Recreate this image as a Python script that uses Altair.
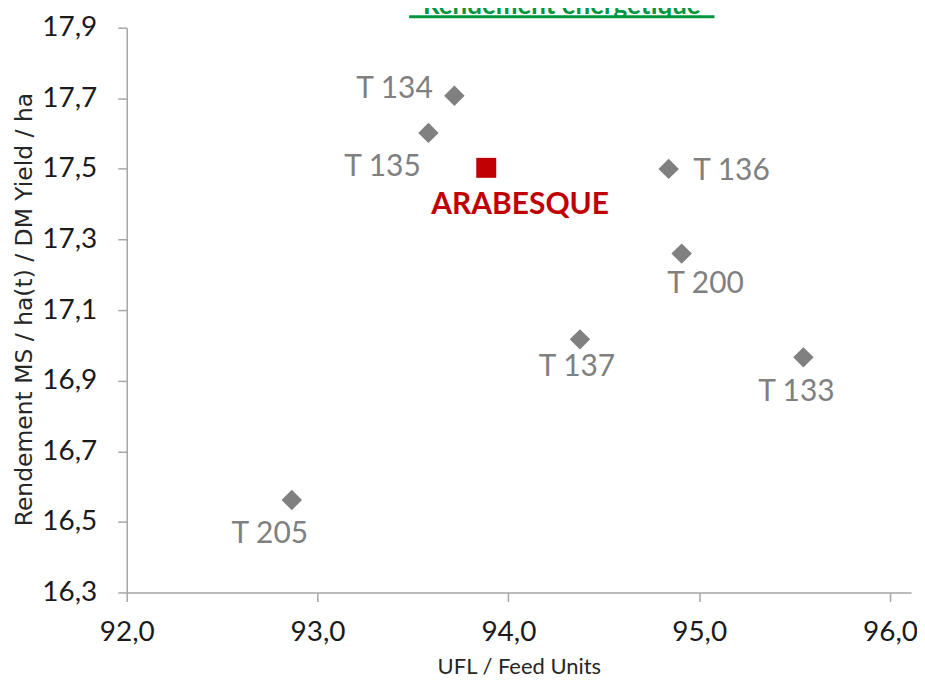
import altair as alt
import pandas as pd

# ---- data ----
names = ["T 134", "T 135", "ARABESQUE", "T 136", "T 200", "T 137", "T 133", "T 205"]
ufl = [93.717, 93.581, 93.884, 94.840, 94.908, 94.375, 95.546, 92.865]
dm_yield = [17.707, 17.602, 17.503, 17.500, 17.260, 17.017, 16.966, 16.562]
x_ticks = [92.0, 93.0, 94.0, 95.0, 96.0]
y_ticks = [16.3, 16.5, 16.7, 16.9, 17.1, 17.3, 17.5, 17.7, 17.9]

df = pd.DataFrame({"name": names, "ufl": ufl, "yld": dm_yield})

FONT = "Lato"
GREY = "#808080"
RED = "#c00000"
GREEN = "#009640"

# label offsets (pixels) relative to each marker
label_offsets = {
    "T 134": (-60, -7),
    "T 135": (-46, 34),
    "T 136": (63, 2),
    "T 200": (24, 30),
    "T 137": (-3, 28),
    "T 133": (-7, 35),
    "T 205": (-22, 34),
    "ARABESQUE": (34, 37),
}

comma = "replace(format(datum.value, '.1f'), '.', ',')"

axis_common = dict(
    grid=False, tickSize=9, labelFontSize=28, labelFont=FONT,
    titleFontWeight="normal", labelColor="#1a1a1a", titleColor="#262626",
    domainColor="#a6a6a6", tickColor="#a6a6a6", domainWidth=1.5, tickWidth=1.5,
    labelFlush=False, labelExpr=comma,
)

x_enc = alt.X("ufl:Q", scale=alt.Scale(domain=[92.0, 96.11], nice=False, zero=False),
              axis=alt.Axis(values=x_ticks, title="UFL / Feed Units", labelPadding=17,
                            titleFont=FONT, titleFontSize=22,
                            titleBaseline="alphabetic", titleY=81, **axis_common))
y_enc = alt.Y("yld:Q", scale=alt.Scale(domain=[16.3, 17.9], nice=False, zero=False),
              axis=alt.Axis(values=y_ticks, title="Rendement MS / ha(t) / DM Yield / ha",
                            titleFont="DejaVu Sans", titleFontSize=23.5,
                            labelPadding=21, titleBaseline="alphabetic", titleAlign="center",
                            titleX=-95, titleY=282, **axis_common))

base = alt.Chart(df)

others = base.transform_filter("datum.name != 'ARABESQUE'").mark_point(
    shape="diamond", filled=True, size=420, color=GREY, opacity=1
).encode(x=x_enc, y=y_enc)

arab = base.transform_filter("datum.name == 'ARABESQUE'").mark_point(
    shape="square", filled=True, size=400, color=RED, opacity=1
).encode(x="ufl:Q", y="yld:Q")

layers = [others, arab]
for nm, (dx, dy) in label_offsets.items():
    is_arab = nm == "ARABESQUE"
    layers.append(
        base.transform_filter(f"datum.name == '{nm}'").mark_text(
            dx=dx, dy=dy, align="center", baseline="middle", font=FONT,
            fontSize=30,
            fontWeight="bold" if is_arab else "normal",
            color=RED if is_arab else GREY,
        ).encode(x="ufl:Q", y="yld:Q", text="name:N")
    )

title_text = alt.Chart(pd.DataFrame({"t": ["Rendement énergétique"]})).mark_text(
    font=FONT, fontSize=26, fontWeight="bold", color=GREEN, align="center",
    baseline="alphabetic"
).encode(x=alt.value(436), y=alt.value(-14), text="t:N")

title_rule = alt.Chart(pd.DataFrame({"t": [0]})).mark_rule(
    color=GREEN, strokeWidth=3
).encode(x=alt.value(283), x2=alt.value(589), y=alt.value(-11))

chart = alt.layer(*layers, title_text, title_rule).properties(
    width=786, height=566,
    autosize=alt.AutoSizeParams(type="none"),
    padding={"left": 119, "top": 19, "right": 6, "bottom": 88},
).configure_view(stroke=None)

chart.save("out.html", embed_options={"renderer": "svg", "actions": False})
